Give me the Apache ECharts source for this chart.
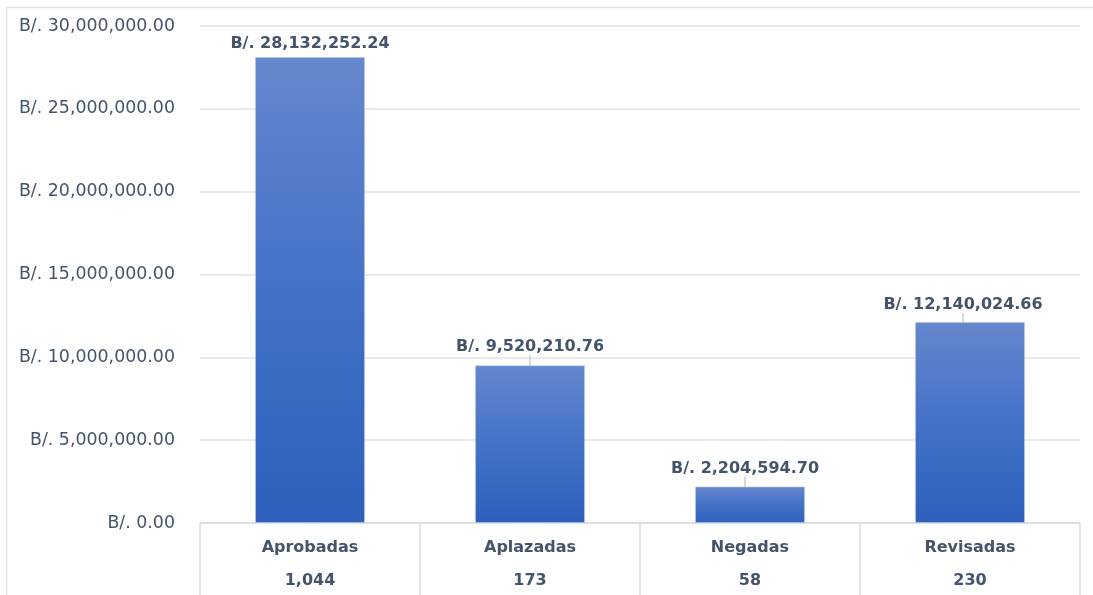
<!DOCTYPE html>
<html>
<head>
<meta charset="utf-8">
<script src="https://cdn.jsdelivr.net/npm/echarts@6/dist/echarts.min.js"></script>
<style>
html,body{margin:0;padding:0;background:#fff;}
#c{width:1093px;height:595px;}
</style>
</head>
<body>
<div id="c"></div>
<script>
var categories = ['Aprobadas', 'Aplazadas', 'Negadas', 'Revisadas'];
var counts = ['1,044', '173', '58', '230'];
var amounts = [28132252.24, 9520210.76, 2204594.70, 12140024.66];
var yMin = 0, yMax = 30000000, yStep = 5000000;

function fmtMoney(v) {
  return 'B/. ' + Number(v).toLocaleString('en-US', {minimumFractionDigits: 2, maximumFractionDigits: 2});
}

var textColor = '#44546a';
var labelShift = [[0, 0], [0, -5], [-5, -5], [-7, -4]];

var chart = echarts.init(document.getElementById('c'), null, {renderer: 'canvas'});
chart.setOption({
  animation: false,
  backgroundColor: '#fff',
  graphic: [{
    type: 'rect',
    shape: {x: 6.5, y: 7.5, width: 1100, height: 600},
    style: {fill: 'none', stroke: '#dde1e8', lineWidth: 1.5},
    silent: true
  }],
  grid: {left: 200, right: 13, top: 26, bottom: 72, containLabel: false},
  xAxis: {
    type: 'category',
    data: categories,
    boundaryGap: true,
    axisLine: {show: true, lineStyle: {color: '#d9dde4', width: 1.5}},
    axisTick: {show: true, length: 75, alignWithLabel: false, lineStyle: {color: '#d9dde4', width: 1.5}},
    axisLabel: {
      margin: 8,
      interval: 0,
      formatter: function (v, i) { return '{a|' + v + '}\n{b|' + counts[i] + '}'; },
      rich: {
        a: {fontFamily: 'DejaVu Sans', fontWeight: 'bold', fontSize: 16, color: textColor, lineHeight: 33},
        b: {fontFamily: 'DejaVu Sans', fontWeight: 'bold', fontSize: 16, color: textColor, lineHeight: 33}
      }
    }
  },
  yAxis: {
    type: 'value',
    min: yMin, max: yMax, interval: yStep,
    axisLine: {show: false},
    axisTick: {show: false},
    splitLine: {show: true, lineStyle: {color: '#dfe3ea', width: 1.5}},
    axisLabel: {
      margin: 25,
      fontFamily: 'DejaVu Sans', fontSize: 17.4, color: textColor,
      formatter: function (v) { return fmtMoney(v); }
    }
  },
  series: [{
    type: 'bar',
    data: amounts.map(function (v, i) {
      return i === 0 ? {value: v, labelLine: {show: false}} : {value: v};
    }),
    barWidth: '50%',
    itemStyle: {
      color: new echarts.graphic.LinearGradient(0, 0, 0, 1, [
        {offset: 0, color: '#6587cd'},
        {offset: 0.5, color: '#4472c8'},
        {offset: 1, color: '#2e5fbb'}
      ]),
      borderColor: 'rgba(180,200,235,0.6)',
      borderWidth: 1
    },
    label: {
      show: true,
      position: 'top',
      distance: 5,
      fontFamily: 'DejaVu Sans', fontWeight: 'bold', fontSize: 16, color: textColor,
      formatter: function (p) { return fmtMoney(p.value); }
    },
    labelLayout: function (p) {
      var s = labelShift[p.dataIndex];
      return {dx: s[0], dy: s[1]};
    },
    labelLine: {show: true, lineStyle: {color: '#b8c2d0', width: 1.2}}
  }]
});
</script>
</body>
</html>
